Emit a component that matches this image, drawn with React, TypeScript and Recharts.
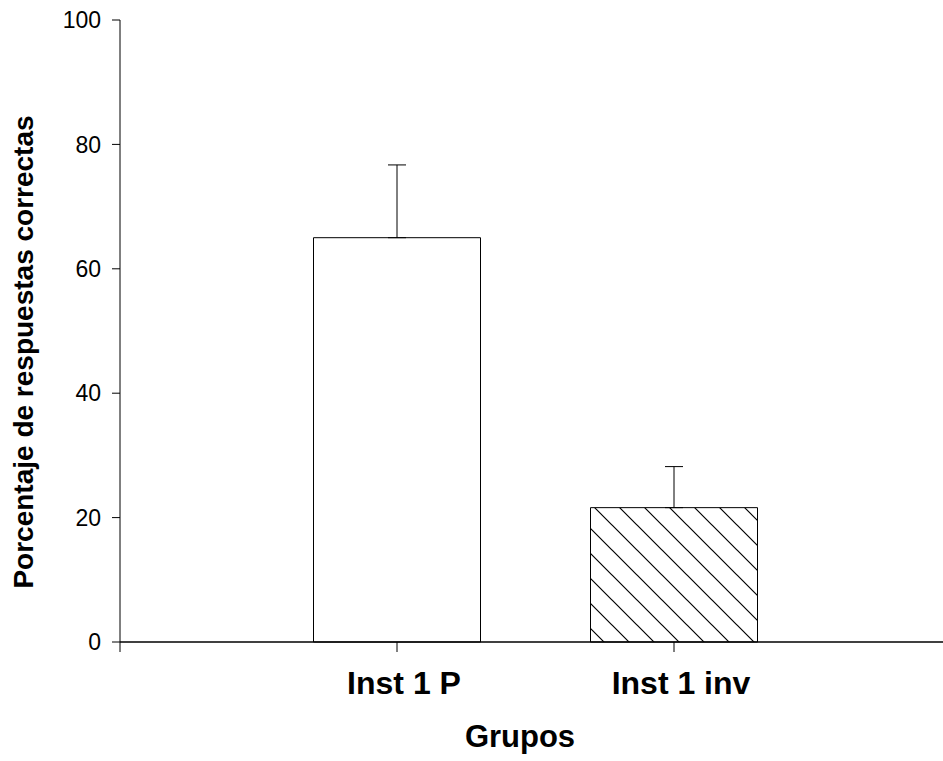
import React from 'react';
import { BarChart, Bar, XAxis, YAxis, ErrorBar, Cell, Label } from 'recharts';

const groups = ['Inst 1 P', 'Inst 1 inv'];
const positions = [1, 2];
const means = [65, 21.6];
const errorsUp = [11.7, 6.6];
const yTicks = [0, 20, 40, 60, 80, 100];
const xTicks = [0, 1, 2, 3];
const yTitle = 'Porcentaje de respuestas correctas';
const xTitle = 'Grupos';

const data = groups.map((g, i) => ({
  name: g,
  x: positions[i],
  value: means[i],
  err: [0, errorsUp[i]],
}));

const FONT = '"Liberation Sans", Arial, sans-serif';

const XTick = (props: any) => {
  const { x, y, payload } = props;
  const idx = positions.indexOf(payload.value);
  if (idx < 0) return null;
  return (
    <text x={x + 7} y={y + 40} textAnchor="middle" fontFamily={FONT} fontWeight="bold" fontSize={32} fill="#000">
      {groups[idx]}
    </text>
  );
};

const YLabel = () => (
  <text
    x={33}
    y={352}
    transform="rotate(-90 33 352)"
    textAnchor="middle"
    fontFamily={FONT}
    fontWeight="bold"
    fontSize={28}
    fill="#000"
  >
    {yTitle}
  </text>
);

const XLabel = () => (
  <text x={520} y={747} textAnchor="middle" fontFamily={FONT} fontWeight="bold" fontSize={31} fill="#000">
    {xTitle}
  </text>
);

export default function App() {
  return (
    <div style={{ position: 'absolute', left: 0, top: 0, width: 943, height: 761, background: '#fff', overflow: 'hidden' }}>
      <BarChart width={943} height={761} data={data} margin={{ top: 20, right: -8, left: 0, bottom: 0 }}>
        <defs>
          <pattern id="hatch" patternUnits="userSpaceOnUse" width={25} height={25} x={12} y={0}>
            <rect x={0} y={0} width={25} height={25} fill="#fff" />
            <path d="M0,0 L25,25 M-5,20 L5,30 M20,-5 L30,5" stroke="#000" strokeWidth={1.2} />
          </pattern>
        </defs>
        <XAxis
          dataKey="x"
          type="number"
          domain={[0, 3]}
          ticks={xTicks}
          height={119}
          tickSize={10}
          tick={<XTick />}
          axisLine={{ stroke: '#000', strokeWidth: 1.5 }}
          tickLine={{ stroke: '#000', strokeWidth: 1 }}
          allowDecimals={false}
        >
          <Label content={<XLabel />} />
        </XAxis>
        <YAxis
          type="number"
          domain={[0, 100]}
          ticks={yTicks}
          width={120}
          tickSize={8}
          tickMargin={11}
          tick={{ fill: '#000', fontSize: 23, fontFamily: FONT }}
          axisLine={{ stroke: '#000', strokeWidth: 1 }}
          tickLine={{ stroke: '#000', strokeWidth: 1 }}
        >
          <Label content={<YLabel />} />
        </YAxis>
        <Bar dataKey="value" barSize={167} stroke="#000" strokeWidth={1} isAnimationActive={false}>
          {data.map((d, i) => (
            <Cell key={d.name} fill={i === 0 ? '#fff' : 'url(#hatch)'} />
          ))}
          <ErrorBar dataKey="err" direction="y" width={9} stroke="#000" strokeWidth={1} isAnimationActive={false} />
        </Bar>
      </BarChart>
    </div>
  );
}
